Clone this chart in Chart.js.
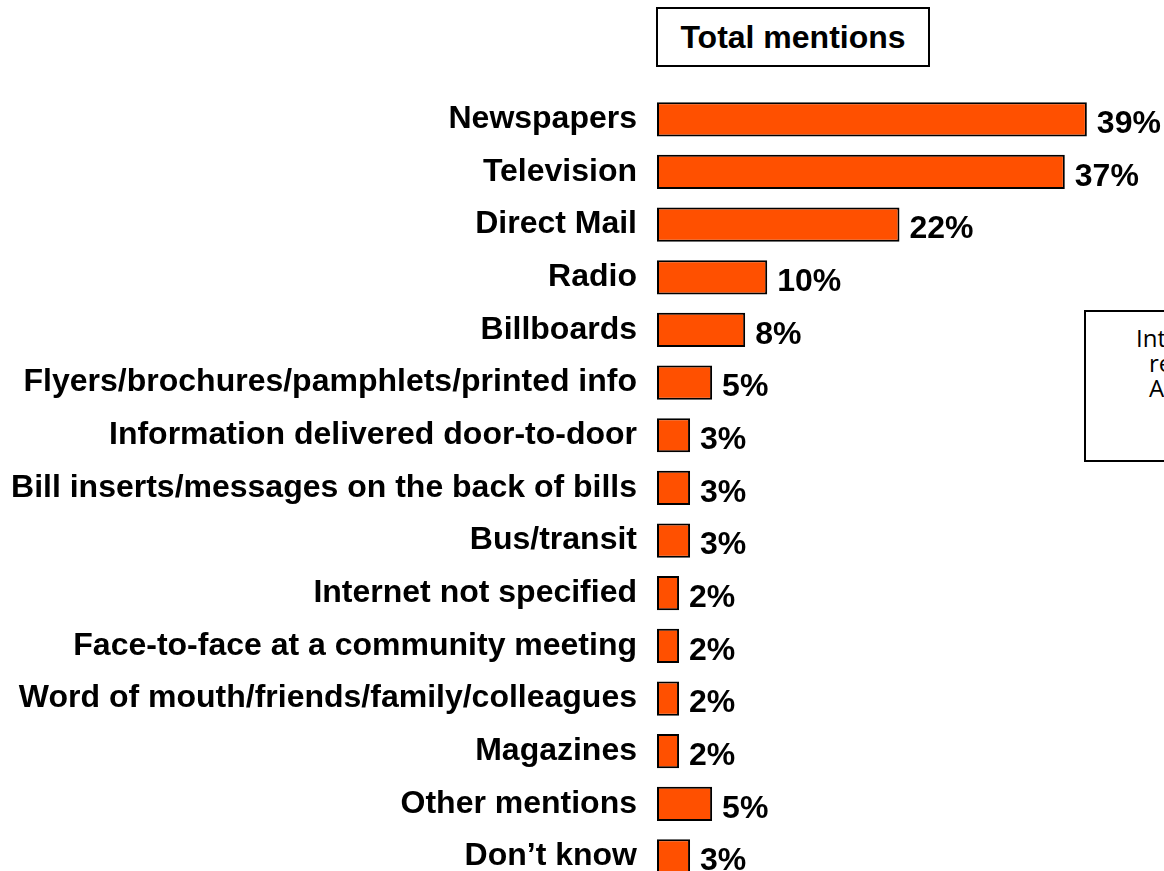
<!DOCTYPE html>
<html>
<head>
<meta charset="utf-8">
<script src="https://cdn.jsdelivr.net/npm/chart.js@4/dist/chart.umd.min.js"></script>
<style>
  html, body { margin: 0; padding: 0; background: #fff; overflow: hidden; width: 1164px; height: 871px; }
  #wrap { position: relative; width: 1164px; height: 871px; overflow: hidden; }
  #chart { position: absolute; left: 0; top: 0; }
  .title-box {
    position: absolute; left: 656px; top: 7px; width: 270px; height: 56px;
    border: 2px solid #000; background: #fff;
    font: bold 32px "Liberation Sans", Arial, sans-serif;
    display: flex; align-items: center; justify-content: center; color: #000;
  }
  .note-box {
    position: absolute; left: 1084px; top: 310px; width: 200px; height: 148px;
    border: 2px solid #000; background: #fff;
    font: 24px "Open Sans", "Liberation Sans", sans-serif; color: #000; white-space: nowrap;
  }
  .note-box span { position: absolute; line-height: 25px; }
</style>
</head>
<body>
<div id="wrap">
  <canvas id="chart" width="1164" height="922"></canvas>
  <div class="title-box">Total mentions</div>
  <div class="note-box">
    <span style="left:50px; top:13px">Internet</span>
    <span style="left:63px; top:38px">responses</span>
    <span style="left:63px; top:63px">All</span>
  </div>
</div>
<script>
const categories = [
  'Newspapers',
  'Television',
  'Direct Mail',
  'Radio',
  'Billboards',
  'Flyers/brochures/pamphlets/printed info',
  'Information delivered door-to-door',
  'Bill inserts/messages on the back of bills',
  'Bus/transit',
  'Internet not specified',
  'Face-to-face at a community meeting',
  'Word of mouth/friends/family/colleagues',
  'Magazines',
  'Other mentions',
  'Don\u2019t know',
];
const mentions = [39, 37, 22, 10, 8, 5, 3, 3, 3, 2, 2, 2, 2, 5, 3];

const BAR_COLOR = '#FF5000';
const LABEL_FONT = { family: '"Liberation Sans", Arial, sans-serif', size: 32, weight: 'bold' };

// percentage text to the right of each bar
const valueLabels = {
  id: 'valueLabels',
  afterDatasetsDraw(chart) {
    const ctx = chart.ctx;
    const meta = chart.getDatasetMeta(0);
    ctx.save();
    ctx.font = `bold ${LABEL_FONT.size}px ${LABEL_FONT.family}`;
    ctx.fillStyle = '#000';
    ctx.textAlign = 'left';
    ctx.textBaseline = 'middle';
    meta.data.forEach((bar, i) => {
      ctx.fillText(mentions[i] + '%', bar.x + 10, bar.y + 5);
    });
    ctx.restore();
  },
};

new Chart(document.getElementById('chart'), {
  type: 'bar',
  data: {
    labels: categories,
    datasets: [{
      data: mentions,
      backgroundColor: BAR_COLOR,
      borderColor: '#000',
      borderWidth: 2,
      borderSkipped: false,
      categoryPercentage: 1,
      barPercentage: 0.65,
    }],
  },
  options: {
    indexAxis: 'y',
    responsive: false,
    animation: false,
    layout: { padding: { top: 93, bottom: 2, left: 0, right: 0 } },
    plugins: { legend: { display: false }, tooltip: { enabled: false } },
    scales: {
      x: {
        display: false,
        min: 0,
        max: 46,
      },
      y: {
        grid: { display: false, drawTicks: false },
        border: { display: false },
        ticks: { color: '#000', font: LABEL_FONT, padding: 20 },
        afterFit(scale) { scale.width = 657; },
      },
    },
  },
  plugins: [valueLabels],
});
</script>
</body>
</html>
